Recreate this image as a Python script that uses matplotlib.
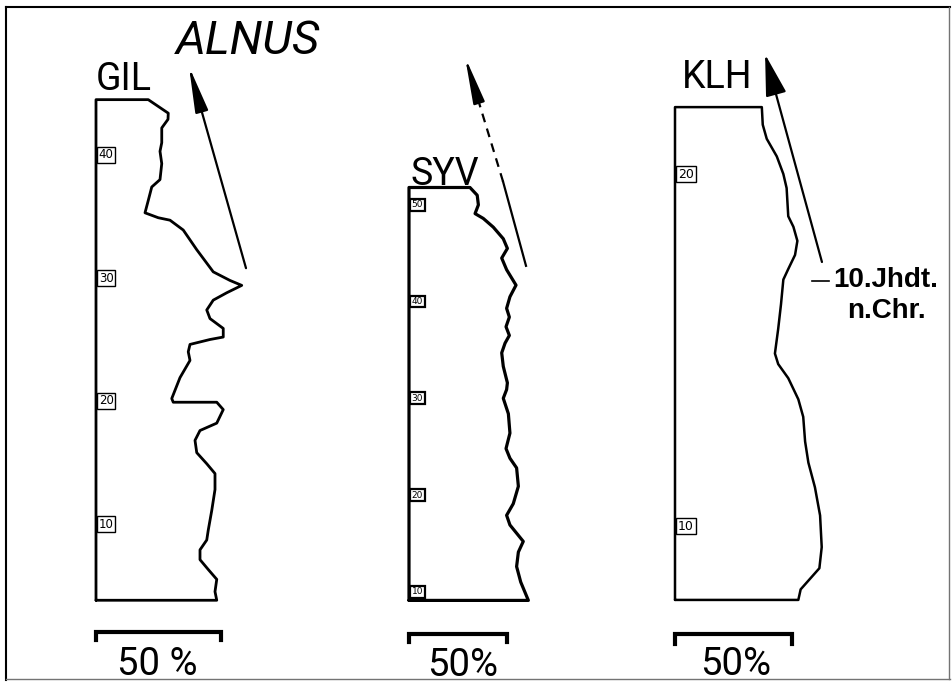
import numpy as np
import matplotlib
matplotlib.use('Agg')
import matplotlib.pyplot as plt
from matplotlib.lines import Line2D

W, H = 952, 683

# Alnus pollen, percent against sample depth, three profiles
gil_pct = [20.9, 28.9, 28.8, 26.3, 26.3, 25.6, 26.3, 25.6, 22.3, 20.9, 19.6, 24.9, 29.6,
           34.9, 40.3, 46.9, 53.6, 58.3, 52.3, 46.9, 44.3, 45.6, 50.9, 50.9, 45.6, 37.6,
           36.9, 37.6, 33.6, 30.3, 30.9, 37.6, 48.3, 50.9, 48.3, 41.6, 39.6, 40.3, 44.3,
           47.6, 47.6, 46.3, 44.9, 44.3, 41.6, 41.6, 44.9, 48.3, 47.6, 48.3]
gil_depth = [44.5, 43.4, 42.9, 42.2, 41.0, 40.3, 39.3, 38.0, 37.4, 36.3, 35.3, 34.9, 34.7,
             33.9, 32.3, 30.5, 29.8, 29.4, 28.8, 28.2, 27.4, 26.7, 25.9, 25.2, 25.0, 24.6,
             24.0, 23.3, 21.9, 20.2, 19.9, 19.9, 19.9, 19.3, 18.2, 17.6, 16.8, 15.8, 14.9,
             14.1, 12.8, 11.1, 9.5, 8.7, 7.9, 7.1, 6.3, 5.5, 4.5, 3.8]
gil_ticks = [10, 20, 30, 40]

syv_pct = [31.1, 34.8, 35.4, 33.7, 37.9, 43.0, 48.1, 50.2, 47.3, 49.8, 54.6, 51.5, 49.8,
           51.2, 49.5, 51.2, 49.0, 47.3, 48.1, 50.2, 49.8, 48.1, 50.7, 51.5, 49.5, 51.5,
           54.9, 55.8, 53.2, 49.8, 51.5, 58.3, 55.8, 54.9, 57.0, 60.9]
syv_depth = [51.8, 51.0, 50.0, 49.1, 48.6, 47.7, 46.5, 45.5, 44.5, 43.3, 41.7, 40.5, 39.3,
             38.4, 37.4, 36.5, 35.7, 34.7, 33.3, 31.6, 30.9, 30.0, 28.4, 26.4, 24.8, 23.8,
             22.8, 20.9, 19.1, 17.9, 16.9, 15.2, 14.1, 12.6, 11.0, 9.1]
syv_ticks = [10, 20, 30, 40, 50]

klh_pct = [37.1, 37.5, 39.2, 43.5, 46.3, 47.7, 48.4, 50.6, 52.3, 51.3, 48.4, 46.3, 45.3,
           44.1, 42.7, 44.1, 48.4, 52.7, 54.8, 55.6, 57.0, 59.8, 62.0, 62.7, 61.7, 57.7,
           53.7, 52.7]
klh_depth = [21.9, 21.4, 21.0, 20.5, 20.0, 19.6, 18.8, 18.5, 18.1, 17.7, 17.3, 17.0, 16.3,
             15.6, 14.9, 14.6, 14.2, 13.6, 13.1, 12.4, 11.8, 11.1, 10.3, 9.4, 8.8, 8.5,
             8.2, 7.9]
klh_ticks = [10, 20]

# trend arrows (percent, depth): tail -> tip
gil_arrow = [(60.0, 30.8), (37.2, 47.2)]
syv_arrow = [(59.7, 43.7), (48.0, 52.4), (28.6, 65.3)]   # solid part, then dashed
klh_arrow = [(62.8, 17.5), (38.5, 23.4)]
klh_horizon = 16.96   # 10. Jhdt. n.Chr.

plt.rcParams['font.family'] = ['Roboto', 'DejaVu Sans']
fig = plt.figure(figsize=(W / 100, H / 100), dpi=100)


def fx(px):
    return px / W


def fy(px):
    return 1 - px / H


def panel(x0, sx, y10, sy):
    # transparent axes over the whole sheet: 0 % at x0 px, depth 10 at y10 px
    ax = fig.add_axes([0, 0, 1, 1])
    ax.set_xlim(-x0 / sx, (W - x0) / sx)
    ax.set_ylim(10 - (H - y10) / sy, 10 + y10 / sy)
    ax.axis('off')
    ax.patch.set_alpha(0)
    return ax


def profile(ax, pct, depth, ticks, lw, fs, blw):
    pct = np.asarray(pct)
    depth = np.asarray(depth)
    x = np.concatenate([[0, 0], pct, [0]])
    y = np.concatenate([[depth[-1], depth[0]], depth, [depth[-1]]])
    ax.plot(x, y, color='k', lw=lw, solid_joinstyle='round', solid_capstyle='round')
    for t in ticks:
        ax.annotate(str(t), (0, t), xytext=(2, 0), textcoords='offset points',
                    fontsize=fs, family='DejaVu Sans', ha='left', va='center',
                    bbox=dict(boxstyle='square,pad=0.15', fc='white', ec='k', lw=blw))


def scale_bar(ax, ypx, tick, label, lx, lbase):
    tr = ax.get_xaxis_transform()
    ax.plot([0, 0, 50, 50], [fy(ypx + tick), fy(ypx), fy(ypx), fy(ypx + tick)],
            color='k', lw=3, transform=tr, solid_joinstyle='miter')
    ax.text(lx, fy(lbase), label, transform=tr, fontsize=27.5, ha='left', va='baseline')


def arrow(ax, tail, tip, hl, hw, lw=1.6):
    ax.annotate('', xy=tip, xytext=tail,
                arrowprops=dict(arrowstyle=f'-|>,head_length={hl},head_width={hw}',
                                mutation_scale=10, lw=lw, color='k',
                                shrinkA=0, shrinkB=0))


# GIL
ax1 = panel(96, 2.5, 524, 12.3)
profile(ax1, gil_pct, gil_depth, gil_ticks, 2.0, 8.5, 1.0)
scale_bar(ax1, 632, 8, '50 %', 8.5, 675)
arrow(ax1, gil_arrow[0], gil_arrow[1], 2.8, 0.4)

# SYV: solid lower stretch, dashed upper stretch ending in a solid head
ax2 = panel(409, 1.96, 591.7, 9.67)
profile(ax2, syv_pct, syv_depth, syv_ticks, 2.3, 6.5, 1.6)
scale_bar(ax2, 634, 8, '50%', 9.5, 676)
(p0, d0), (p1, d1), (p2, d2) = syv_arrow
ax2.plot([p0, p1], [d0, d1], color='k', lw=1.6)
pb, db = p2 + 0.33 * (p1 - p2), d2 + 0.33 * (d1 - d2)
ax2.plot([p1, pb], [d1, db], color='k', lw=1.6, ls=(0, (4, 3)))
arrow(ax2, (pb, db), (p2, d2), 2.8, 0.35)

# KLH
ax3 = panel(675, 2.34, 526, 35.2)
profile(ax3, klh_pct, klh_depth, klh_ticks, 1.8, 9, 1.0)
scale_bar(ax3, 634, 10, '50%', 10.7, 675)
arrow(ax3, klh_arrow[0], klh_arrow[1], 2.6, 0.65)
ax3.plot([58.5, 65.8], [klh_horizon, klh_horizon], color='k', lw=1.2)
ax3.text(67.5, 16.79, '10.Jhdt.', fontsize=20, fontweight='bold',
         family=['Liberation Sans', 'DejaVu Sans'], ha='left', va='baseline')
ax3.text(73.5, 15.91, 'n.Chr.', fontsize=20, fontweight='bold',
         family=['Liberation Sans', 'DejaVu Sans'], ha='left', va='baseline')

# titles
fig.text(fx(176), fy(54), 'ALNUS', fontsize=34, style='italic', va='baseline')
fig.text(fx(96), fy(90), 'GIL', fontsize=27, va='baseline')
fig.text(fx(411), fy(185), 'SYV', fontsize=27, va='baseline')
fig.text(fx(682), fy(88), 'KLH', fontsize=27, va='baseline')

# sheet border
for xs, ys, c, w in [((6, 950), (7, 7), 'k', 1.5), ((6, 6), (7, 680), 'k', 1.5),
                     ((6, 950), (679, 679), '0.45', 1.0), ((949, 949), (7, 679), '0.45', 1.0)]:
    fig.add_artist(Line2D([fx(v) for v in xs], [fy(v) for v in ys], color=c, lw=w))

fig.savefig('out.png', dpi=100, facecolor='white')
